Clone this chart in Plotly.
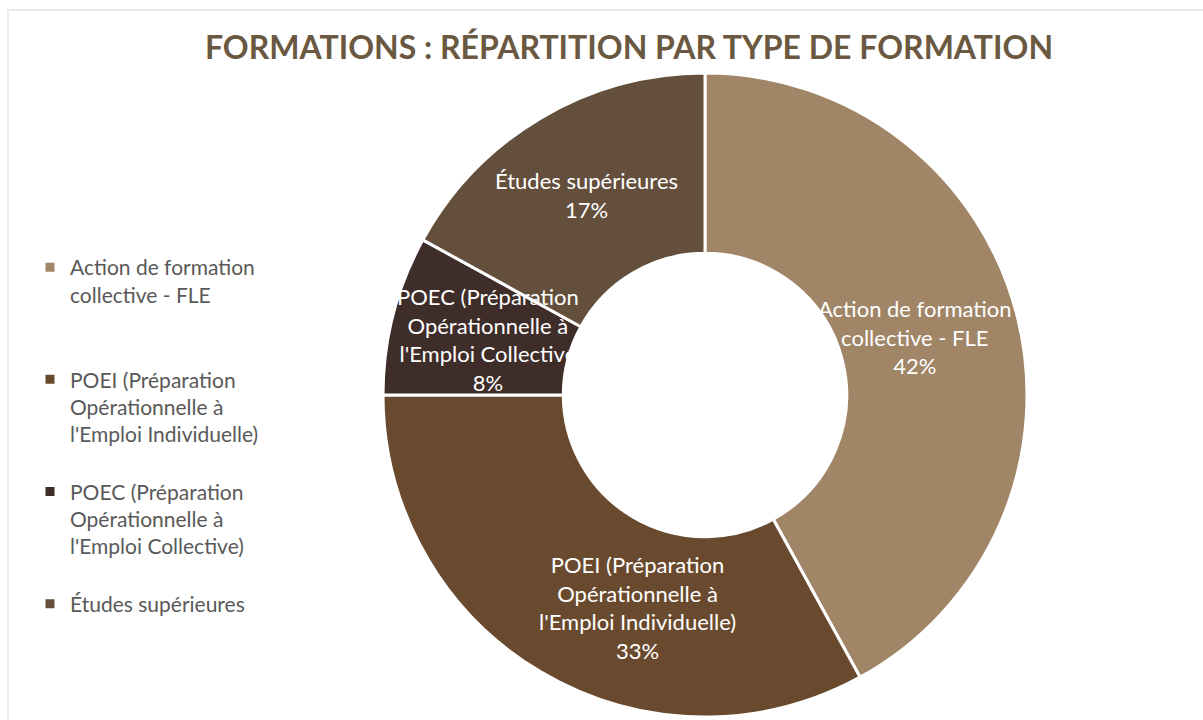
import math
import plotly.graph_objects as go

# ---- data ----
categories = [
    "Action de formation collective - FLE",
    "POEI (Préparation Opérationnelle à l'Emploi Individuelle)",
    "POEC (Préparation Opérationnelle à l'Emploi Collective)",
    "Études supérieures",
]
legend_labels = [
    "Action de formation<br>collective - FLE<br> <br> ",
    "POEI (Préparation<br>Opérationnelle à<br>l'Emploi Individuelle)<br> ",
    "POEC (Préparation<br>Opérationnelle à<br>l'Emploi Collective)<br> ",
    "Études supérieures",
]
slice_text = [
    "Action de formation<br>collective - FLE",
    "POEI (Préparation<br>Opérationnelle à<br>l'Emploi Individuelle)",
    "POEC (Préparation<br>Opérationnelle à<br>l'Emploi Collective",
    "Études supérieures",
]
values = [42, 33, 8, 17]
colors = ["#A08567", "#6A4A2E", "#3E2D29", "#634F3C"]
label_angle_offset = [-1, -13, 0, 0]
label_radius_scale = [0.94, 0.96, 0.965, 1.0]

W, H = 1203, 720
cx_px, cy_px, R_out, hole = 705, 395, 322, 0.44

fig = go.Figure()
fig.add_trace(go.Pie(
    labels=legend_labels,
    values=values,
    hole=hole,
    sort=False,
    direction="clockwise",
    rotation=0,
    marker=dict(colors=colors, line=dict(color="white", width=3)),
    textinfo="none",
    hoverinfo="label+percent",
    domain=dict(x=[(cx_px - R_out) / W, (cx_px + R_out) / W],
                y=[1 - (cy_px + R_out) / H, 1 - (cy_px - R_out) / H]),
))

# data labels placed at the middle of each ring segment
total = sum(values)
cum = 0
r_mid = R_out * (1 + hole) / 2
for v, t, off, rs in zip(values, slice_text, label_angle_offset, label_radius_scale):
    mid = (cum + v / 2) / total * 360 + off
    cum += v
    a = math.radians(mid)
    r = r_mid * rs
    x = (cx_px + r * math.sin(a)) / W
    y = 1 - (cy_px - r * math.cos(a)) / H
    fig.add_annotation(
        x=x, y=y, xref="paper", yref="paper",
        xanchor="center", yanchor="middle",
        text=f"{t}<br>{round(v / total * 100)}%",
        showarrow=False, align="center",
        font=dict(family="Lato", size=22, color="#FFFFFF"),
    )

fig.add_shape(type="rect", xref="paper", yref="paper",
              x0=8 / W, x1=1.02, y0=-0.02, y1=1 - 10 / H,
              line=dict(color="#EBEBEB", width=2), layer="below")

fig.update_layout(
    width=W, height=H,
    margin=dict(l=0, r=0, t=0, b=0),
    paper_bgcolor="white",
    plot_bgcolor="white",
    title=dict(
        text="<b>FORMATIONS : RÉPARTITION PAR TYPE DE FORMATION</b>",
        x=629 / W, xanchor="center", y=1 - 48 / H, yanchor="middle",
        font=dict(family="Lato", size=32, color="#6A5841"),
    ),
    showlegend=True,
    legend=dict(
        x=30 / W, xanchor="left", y=1 - 247 / H, yanchor="top",
        valign="top",
        font=dict(family="Lato", size=21, color="#595959"),
        bgcolor="rgba(0,0,0,0)",
    ),
)

fig.write_html(
    "out.html",
    config={"displayModeBar": False},
    post_script="document.body.style.margin='0';document.body.style.overflow='hidden';",
)
